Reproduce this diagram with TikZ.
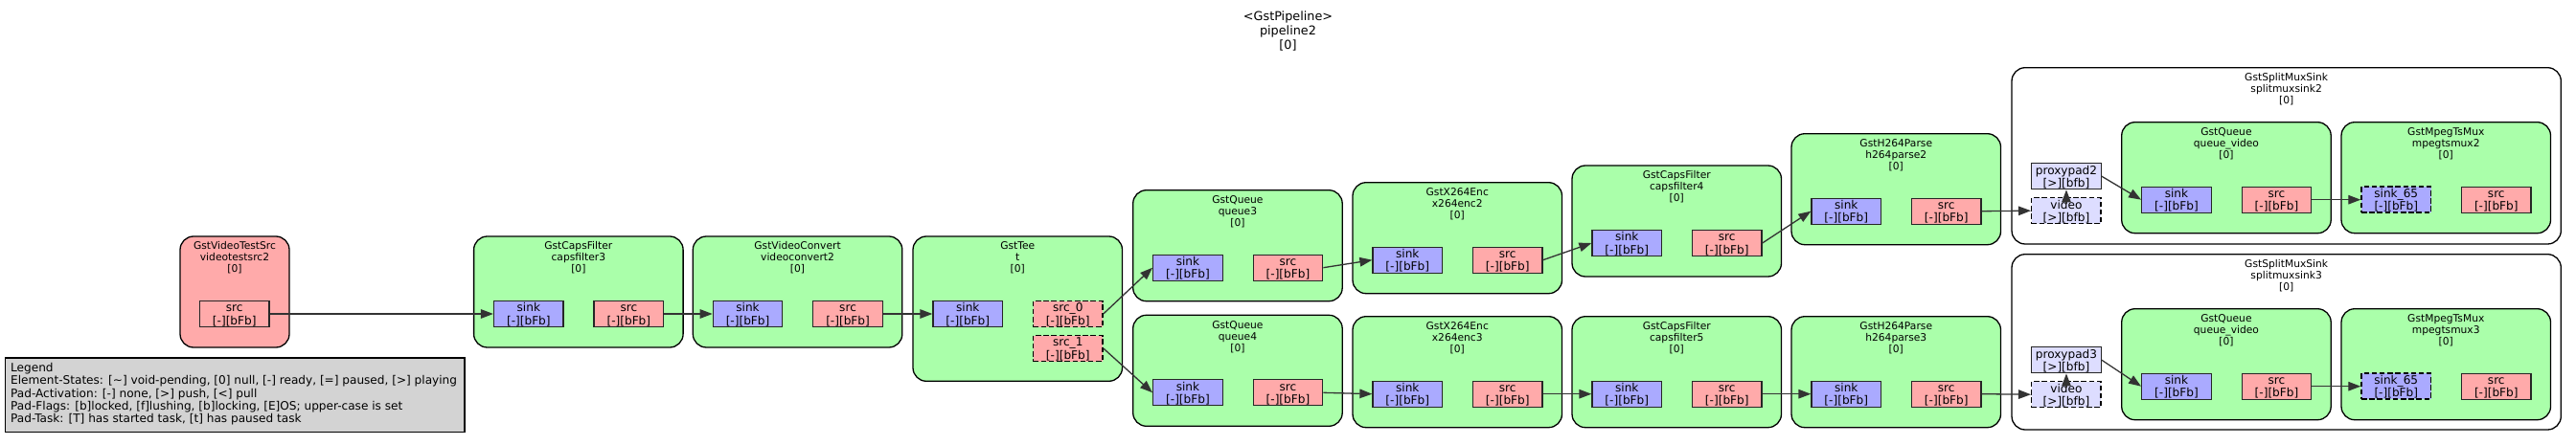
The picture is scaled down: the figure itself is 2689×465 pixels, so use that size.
\documentclass[tikz,border=0pt]{standalone}
\usepackage{fontspec}
\setmainfont{DejaVu Sans}
\usetikzlibrary{arrows.meta}
\definecolor{elemgreen}{HTML}{AAFFAA}
\definecolor{srcred}{HTML}{FFAAAA}
\definecolor{sinkblue}{HTML}{AAAAFF}
\definecolor{proxyblue}{HTML}{DDDDFF}
\definecolor{leggray}{HTML}{D3D3D3}
\definecolor{edgecol}{HTML}{333333}
\newcommand\gstbox[7]{%
  \node[#1, minimum width={#5}, minimum height={#6}] (#2) at ({#3+#5/2},{#4+#6/2}) {};
  \node[lbl, anchor=north] (#2-l) at ([yshift=-6pt]#2.north) {\rule{0pt}{8.2pt}#7};}
\newcommand\gstpad[6]{%
  \node[#1] (#2) at ({#3+36.25},{#4+13.5}) {\rule{0pt}{11.2pt}#5\\\rule[-2.2pt]{0pt}{2.2pt}#6};}
\tikzset{
  elembox/.style={draw=black, line width=1.3pt, rounded corners=14pt, fill=elemgreen, inner sep=0pt},
  elemred/.style={elembox, fill=srcred},
  binbox/.style={elembox, fill=white},
  lbl/.style={font=\fontsize{10.7}{12}\selectfont, align=center, inner sep=0pt},
  padbox/.style={draw=black!85, line width=1.3pt, minimum width=72.5pt, minimum height=27pt, inner sep=0pt,
     align=center, font=\fontsize{12.1}{13.3}\selectfont},
  sinkpad/.style={padbox, fill=sinkblue},
  srcpad/.style={padbox, fill=srcred},
  dashpad/.style={draw=black, line width=1.5pt, dash pattern=on 5.5pt off 2.7pt},
  reqsink/.style={sinkpad, dashpad},
  reqsrc/.style={srcpad, dashpad},
  proxypadbox/.style={padbox, fill=proxyblue},
  ghostpad/.style={padbox, fill=proxyblue, dashpad},
  edge/.style={draw=edgecol, line width=1.3pt, -{Triangle[length=13pt,width=9.5pt]}},
}
\begin{document}
\begin{tikzpicture}[x=1pt, y=-1pt]
\useasboundingbox (0,0) rectangle (2689,465);
% title
\node[font=\fontsize{12.8}{15}\selectfont, align=center, inner sep=0pt, anchor=north] (title) at (1344.5,11.7)
  {\rule{0pt}{9.7pt}<GstPipeline>\\pipeline2\\{}[0]};
% legend
\node[draw=black, line width=1.3pt, fill=leggray, minimum width=479.9pt, minimum height=77.4pt, inner sep=0pt, anchor=north west] (legend) at (4.5,373.3) {};
\node[font=\fontsize{12.1}{13.3}\selectfont, align=left, inner sep=0pt, anchor=north west] (legend-t) at (11,379.2)
  {\rule{0pt}{9.2pt}Legend\\
   Element-States: [\textasciitilde] void-pending, [0] null, [-] ready, [=] paused, [>] playing\\
   Pad-Activation: [-] none, [>] push, [<] pull\\
   Pad-Flags: [b]locked, [f]lushing, [b]locking, [E]OS; upper-case is set\\
   Pad-Task: [T] has started task, [t] has paused task};
% elements
\gstbox{elemred}{vts}{188}{247}{114}{116}{GstVideoTestSrc\\videotestsrc2\\{}[0]}
\gstpad{srcpad}{vts-src}{208.5}{314.5}{src}{[-][bFb]}
\gstbox{elembox}{cf3}{494.6}{247}{218.5}{116}{GstCapsFilter\\capsfilter3\\{}[0]}
\gstpad{sinkpad}{cf3-sink}{515.6}{314.5}{sink}{[-][bFb]}
\gstpad{srcpad}{cf3-src}{620.1}{314.5}{src}{[-][bFb]}
\gstbox{elembox}{vc2}{723.3}{247}{218.5}{116}{GstVideoConvert\\videoconvert2\\{}[0]}
\gstpad{sinkpad}{vc2-sink}{744.3}{314.5}{sink}{[-][bFb]}
\gstpad{srcpad}{vc2-src}{848.8}{314.5}{src}{[-][bFb]}
\gstbox{elembox}{t}{953}{247}{218.5}{151.3}{GstTee\\t\\{}[0]}
\gstpad{sinkpad}{t-sink}{974}{314.5}{sink}{[-][bFb]}
\gstpad{reqsrc}{t-src0}{1078.5}{314.5}{src\_0}{[-][bFb]}
\gstpad{reqsrc}{t-src1}{1078.5}{350.5}{src\_1}{[-][bFb]}
% branch 1
\gstbox{elembox}{q3}{1182.7}{198.7}{218.5}{116}{GstQueue\\queue3\\{}[0]}
\gstpad{sinkpad}{q3-sink}{1203.7}{266.2}{sink}{[-][bFb]}
\gstpad{srcpad}{q3-src}{1308.2}{266.2}{src}{[-][bFb]}
\gstbox{elembox}{x2}{1412}{190.7}{218.5}{116}{GstX264Enc\\x264enc2\\{}[0]}
\gstpad{sinkpad}{x2-sink}{1433}{258.2}{sink}{[-][bFb]}
\gstpad{srcpad}{x2-src}{1537.5}{258.2}{src}{[-][bFb]}
\gstbox{elembox}{cf4}{1641}{173}{218.5}{116}{GstCapsFilter\\capsfilter4\\{}[0]}
\gstpad{sinkpad}{cf4-sink}{1662}{240.5}{sink}{[-][bFb]}
\gstpad{srcpad}{cf4-src}{1766.5}{240.5}{src}{[-][bFb]}
\gstbox{elembox}{hp2}{1870}{139.7}{218.5}{116}{GstH264Parse\\h264parse2\\{}[0]}
\gstpad{sinkpad}{hp2-sink}{1891}{207.2}{sink}{[-][bFb]}
\gstpad{srcpad}{hp2-src}{1995.5}{207.2}{src}{[-][bFb]}
% branch 2
\gstbox{elembox}{q4}{1182.7}{329.3}{218.5}{116}{GstQueue\\queue4\\{}[0]}
\gstpad{sinkpad}{q4-sink}{1203.7}{396.8}{sink}{[-][bFb]}
\gstpad{srcpad}{q4-src}{1308.2}{396.8}{src}{[-][bFb]}
\gstbox{elembox}{x3}{1412}{330.7}{218.5}{116}{GstX264Enc\\x264enc3\\{}[0]}
\gstpad{sinkpad}{x3-sink}{1433}{398.2}{sink}{[-][bFb]}
\gstpad{srcpad}{x3-src}{1537.5}{398.2}{src}{[-][bFb]}
\gstbox{elembox}{cf5}{1641}{330.7}{218.5}{116}{GstCapsFilter\\capsfilter5\\{}[0]}
\gstpad{sinkpad}{cf5-sink}{1662}{398.2}{sink}{[-][bFb]}
\gstpad{srcpad}{cf5-src}{1766.5}{398.2}{src}{[-][bFb]}
\gstbox{elembox}{hp3}{1870}{330.7}{218.5}{116}{GstH264Parse\\h264parse3\\{}[0]}
\gstpad{sinkpad}{hp3-sink}{1891}{398.2}{sink}{[-][bFb]}
\gstpad{srcpad}{hp3-src}{1995.5}{398.2}{src}{[-][bFb]}
% splitmuxsink2
\gstbox{binbox}{smx2}{2100}{70.7}{573.3}{184.3}{GstSplitMuxSink\\splitmuxsink2\\{}[0]}
\gstpad{proxypadbox}{pp2}{2120.7}{170.7}{proxypad2}{[>][bfb]}
\gstpad{ghostpad}{vid2}{2120.7}{206.7}{video}{[>][bfb]}
\gstbox{elembox}{qv2}{2214.7}{127.7}{218.5}{116}{GstQueue\\queue\_video\\{}[0]}
\gstpad{sinkpad}{qv2-sink}{2235.7}{195.2}{sink}{[-][bFb]}
\gstpad{srcpad}{qv2-src}{2340.2}{195.2}{src}{[-][bFb]}
\gstbox{elembox}{mx2}{2444}{127.7}{218.5}{116}{GstMpegTsMux\\mpegtsmux2\\{}[0]}
\gstpad{reqsink}{mx2-sink}{2465}{195.2}{sink\_65}{[-][bFb]}
\gstpad{srcpad}{mx2-src}{2569.5}{195.2}{src}{[-][bFb]}
% splitmuxsink3
\gstbox{binbox}{smx3}{2100}{265.7}{573.3}{183.3}{GstSplitMuxSink\\splitmuxsink3\\{}[0]}
\gstpad{proxypadbox}{pp3}{2120.7}{362.7}{proxypad3}{[>][bfb]}
\gstpad{ghostpad}{vid3}{2120.7}{398.7}{video}{[>][bfb]}
\gstbox{elembox}{qv3}{2214.7}{322.7}{218.5}{116}{GstQueue\\queue\_video\\{}[0]}
\gstpad{sinkpad}{qv3-sink}{2235.7}{390.2}{sink}{[-][bFb]}
\gstpad{srcpad}{qv3-src}{2340.2}{390.2}{src}{[-][bFb]}
\gstbox{elembox}{mx3}{2444}{322.7}{218.5}{116}{GstMpegTsMux\\mpegtsmux3\\{}[0]}
\gstpad{reqsink}{mx3-sink}{2465}{390.2}{sink\_65}{[-][bFb]}
\gstpad{srcpad}{mx3-src}{2569.5}{390.2}{src}{[-][bFb]}
% edges
\draw[edge] (vts-src.east) -- (cf3-sink.west);
\draw[edge] (cf3-src.east) -- (vc2-sink.west);
\draw[edge] (vc2-src.east) -- (t-sink.west);
\draw[edge] (t-src0.east) -- (q3-sink.west);
\draw[edge] (t-src1.east) -- (q4-sink.west);
\draw[edge] (q3-src.east) -- (x2-sink.west);
\draw[edge] (q4-src.east) -- (x3-sink.west);
\draw[edge] (x2-src.east) -- (cf4-sink.west);
\draw[edge] (x3-src.east) -- (cf5-sink.west);
\draw[edge] (cf4-src.east) -- (hp2-sink.west);
\draw[edge] (cf5-src.east) -- (hp3-sink.west);
\draw[edge] (hp2-src.east) -- (vid2.west);
\draw[edge] (hp3-src.east) -- (vid3.west);
\draw[edge] ([yshift=-7pt]vid2.north) -- (pp2.south);
\draw[edge] ([yshift=-7pt]vid3.north) -- (pp3.south);
\draw[edge] (pp2.east) -- (qv2-sink.west);
\draw[edge] (pp3.east) -- (qv3-sink.west);
\draw[edge] (qv2-src.east) -- (mx2-sink.west);
\draw[edge] (qv3-src.east) -- (mx3-sink.west);
\end{tikzpicture}
\end{document}
